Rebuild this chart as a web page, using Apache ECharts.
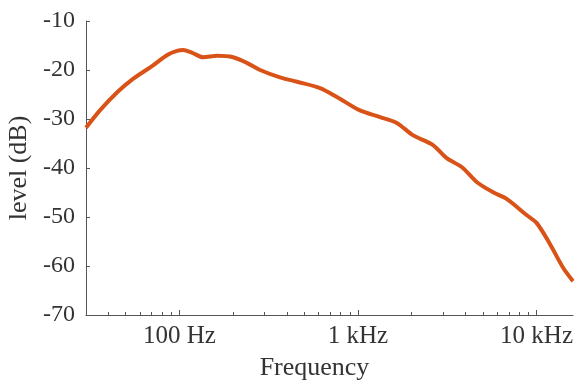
<!DOCTYPE html>
<html>
<head>
<meta charset="utf-8">
<title>level vs frequency</title>
<script src="https://cdn.jsdelivr.net/npm/echarts@6/dist/echarts.min.js"></script>
<style>
    html, body {
        margin: 0;
        padding: 0;
        background: #fff;
    }
    #levelChart {
        width: 575px;
        height: 385px;
    }
</style>
</head>
<body>
<div id="levelChart"></div>
<script>
    // values (Hz, dB)
    const freq = [30, 36, 45, 55, 69, 86, 97, 105, 118, 136, 163, 200, 240, 283, 366, 456, 613, 762,
        1020, 1330, 1650, 2030, 2620, 3140, 3810, 4640, 5680, 6800, 8790, 10000, 11800, 14000, 16000];
    const level = [-31.8, -28.2, -24.5, -21.8, -19.4, -16.9, -16.1, -15.9, -16.5, -17.4, -17.1, -17.4, -18.6, -20.0, -21.5, -22.4, -23.7, -25.5,
        -28.2, -29.6, -30.8, -33.3, -35.3, -38.0, -39.8, -42.9, -44.9, -46.3, -49.6, -51.2, -55.3, -60.2, -63.1];

    const majorTicks = [100, 1000, 10000];
    const majorLabels = {100: '100 Hz', 1000: '1 kHz', 10000: '10 kHz'};
    const minorTicks = [40, 50, 60, 70, 80, 90, 200, 300, 400, 500, 600, 700, 800, 900,
        2000, 3000, 4000, 5000, 6000, 7000, 8000, 9000];
    const yTicks = [-70, -60, -50, -40, -30, -20, -10];

    const font = 'Liberation Serif';
    const textColor = '#333';
    const lineColor = '#555';

    let myChart = echarts.init(document.getElementById('levelChart'));
    myChart.setOption({
        animation: false,
        grid: {
            left: 86,
            right: 2,
            top: 21,
            bottom: 70,
            // keep the plot box where it is even if "10 kHz" runs to the edge
            outerBoundsMode: 'none'
        },
        xAxis: [
            {
                type: 'log',
                logBase: 10,
                min: 30,
                max: 16000,
                name: 'Frequency',
                nameLocation: 'middle',
                nameGap: 40,
                nameTextStyle: {
                    fontFamily: font,
                    fontSize: 26,
                    color: textColor,
                    padding: [0, 30, 0, 0]
                },
                axisLine: {lineStyle: {color: lineColor, width: 1}},
                axisTick: {
                    inside: true,
                    length: 5,
                    customValues: majorTicks,
                    lineStyle: {color: lineColor}
                },
                axisLabel: {
                    customValues: majorTicks,
                    margin: 9,
                    fontFamily: font,
                    fontSize: 25,
                    color: textColor,
                    formatter: function (v) {
                        return majorLabels[Math.round(v)] || '';
                    }
                },
                splitLine: {show: false}
            },
            {
                // minor ticks only
                type: 'log',
                logBase: 10,
                min: 30,
                max: 16000,
                position: 'bottom',
                axisLine: {show: false},
                axisTick: {
                    inside: true,
                    length: 3,
                    customValues: minorTicks,
                    lineStyle: {color: lineColor}
                },
                axisLabel: {show: false},
                splitLine: {show: false}
            }
        ],
        yAxis: {
            type: 'value',
            min: -70,
            max: -10,
            interval: 10,
            name: 'level (dB)',
            nameLocation: 'middle',
            nameGap: 51,
            nameTextStyle: {
                fontFamily: font,
                fontSize: 26,
                color: textColor
            },
            axisLine: {show: true, lineStyle: {color: lineColor, width: 1}},
            axisTick: {
                show: true,
                inside: true,
                length: 4,
                customValues: yTicks,
                lineStyle: {color: lineColor}
            },
            axisLabel: {
                margin: 11,
                fontFamily: font,
                fontSize: 24,
                color: textColor
            },
            splitLine: {show: false}
        },
        series: [
            {
                name: 'level',
                type: 'line',
                xAxisIndex: 0,
                showSymbol: false,
                smooth: 0.3,
                lineStyle: {
                    color: '#d95319',
                    width: 4
                },
                data: freq.map((f, i) => [f, level[i]])
            }
        ]
    });
</script>
</body>
</html>
